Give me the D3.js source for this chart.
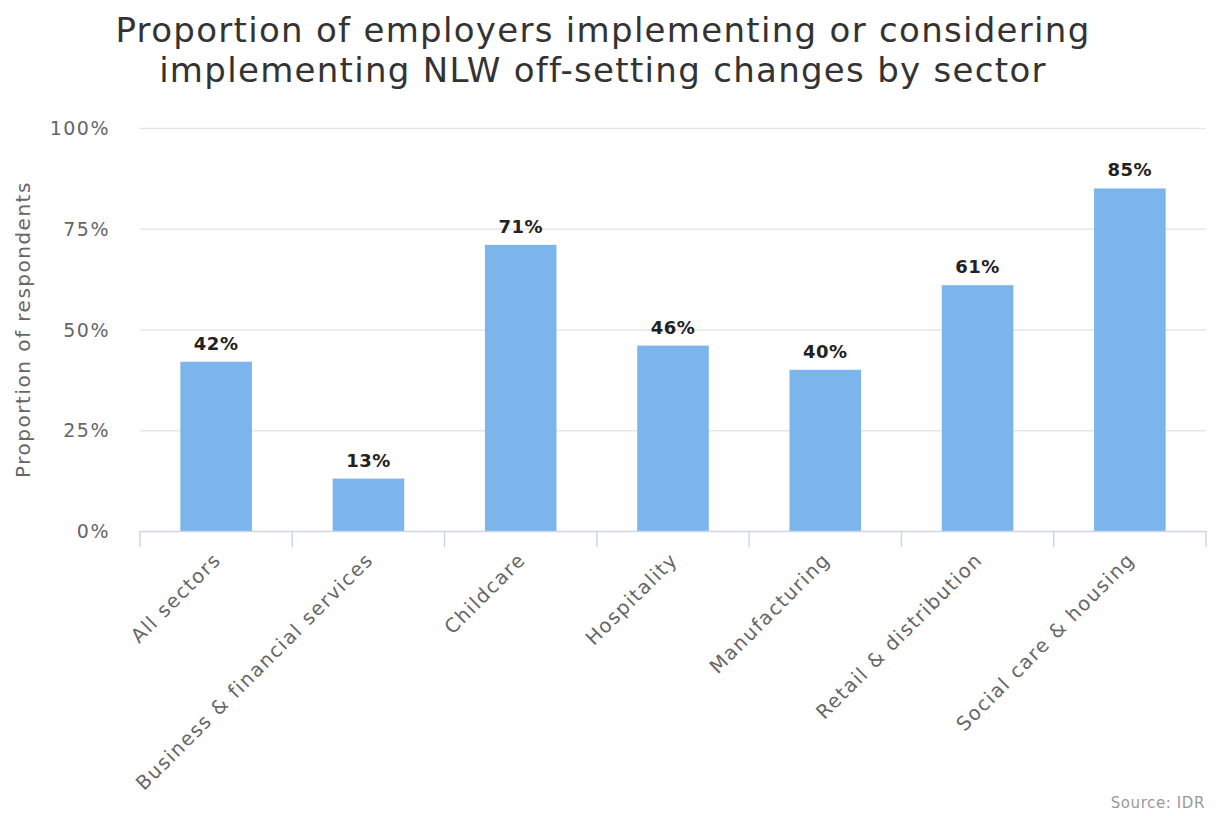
<!DOCTYPE html>
<html>
<head>
<meta charset="utf-8">
<script src="https://cdn.jsdelivr.net/npm/d3@7"></script>
<style>
  html, body { margin: 0; padding: 0; background: #fff; }
  svg { display: block; font-family: "DejaVu Sans", Verdana, sans-serif; }
</style>
</head>
<body>
<svg id="chart" width="1216" height="816"></svg>
<script>
// Sector breakdown of employers implementing or considering NLW off-setting changes
const categories = [
  "All sectors",
  "Business & financial services",
  "Childcare",
  "Hospitality",
  "Manufacturing",
  "Retail & distribution",
  "Social care & housing"
];
const values = [42, 13, 71, 46, 40, 61, 85];
const yTicks = [0, 25, 50, 75, 100];
const titleLines = [
  "Proportion of employers implementing or considering",
  "implementing NLW off-setting changes by sector"
];
const yTitle = "Proportion of respondents";
const sourceText = "Source: IDR";

const svg = d3.select("#chart");
const plot = { left: 140, right: 1206, top: 128, bottom: 531 };

const x = d3.scaleBand()
  .domain(categories)
  .range([plot.left, plot.right])
  .paddingInner(0)
  .paddingOuter(0);

const y = d3.scaleLinear()
  .domain([0, 100])
  .range([plot.bottom, plot.top]);

// Title, two centred lines
svg.append("g")
  .selectAll("text")
  .data(titleLines)
  .join("text")
  .attr("x", 603)
  .attr("y", (d, i) => 42 + i * 40)
  .attr("text-anchor", "middle")
  .style("font-size", "34px")
  .style("letter-spacing", "1.3px")
  .style("fill", "#333")
  .text(d => d);

// Gridlines
svg.append("g")
  .selectAll("line")
  .data(yTicks.filter(d => d > 0))
  .join("line")
  .attr("x1", plot.left)
  .attr("x2", plot.right)
  .attr("y1", d => y(d) + 0.5)
  .attr("y2", d => y(d) + 0.5)
  .attr("stroke", "#e6e6e6")
  .attr("stroke-width", 1.5);

// Y axis labels
const yAxis = svg.append("g")
  .attr("transform", `translate(${plot.left - 30},0)`)
  .call(d3.axisLeft(y).tickValues(yTicks).tickFormat(d => d + "%").tickSize(0).tickPadding(0));
yAxis.select(".domain").remove();
yAxis.selectAll("text")
  .attr("dy", "0.35em")
  .style("font-size", "19px")
  .style("letter-spacing", "1.5px")
  .style("font-family", "DejaVu Sans, Verdana, sans-serif")
  .style("fill", "#666");

// Y axis title
svg.append("text")
  .attr("transform", `translate(30,${(plot.top + plot.bottom) / 2}) rotate(-90)`)
  .attr("text-anchor", "middle")
  .style("font-size", "20px")
  .style("letter-spacing", "1.5px")
  .style("fill", "#666")
  .text(yTitle);

// Bars
const barW = x.bandwidth() * 0.47;
svg.append("g")
  .selectAll("rect")
  .data(values)
  .join("rect")
  .attr("x", (d, i) => x(categories[i]) + (x.bandwidth() - barW) / 2)
  .attr("y", d => y(d))
  .attr("width", barW)
  .attr("height", d => y(0) - y(d))
  .attr("fill", "#7cb5ec");

// Value labels
svg.append("g")
  .selectAll("text")
  .data(values)
  .join("text")
  .attr("x", (d, i) => x(categories[i]) + x.bandwidth() / 2)
  .attr("y", d => y(d) - 12)
  .attr("text-anchor", "middle")
  .style("font-size", "18px")
  .style("letter-spacing", "0.5px")
  .style("font-weight", "bold")
  .style("fill", "#222")
  .text(d => d + "%");

// X axis line and boundary ticks
svg.append("line")
  .attr("x1", plot.left).attr("x2", plot.right)
  .attr("y1", plot.bottom + 0.5).attr("y2", plot.bottom + 0.5)
  .attr("stroke", "#ccd6eb").attr("stroke-width", 1.5);
const boundaries = categories.map(c => x(c)).concat([plot.right]);
svg.append("g")
  .selectAll("line")
  .data(boundaries)
  .join("line")
  .attr("x1", d => d).attr("x2", d => d)
  .attr("y1", plot.bottom).attr("y2", plot.bottom + 16)
  .attr("stroke", "#ccd6eb").attr("stroke-width", 1.5);

// Category labels, rotated
svg.append("g")
  .selectAll("text")
  .data(categories)
  .join("text")
  .attr("transform", d => `translate(${x(d) + x.bandwidth() / 2 + 6},${plot.bottom + 30}) rotate(-45)`)
  .attr("text-anchor", "end")
  .style("font-size", "19.5px")
  .style("letter-spacing", "1.5px")
  .style("fill", "#666")
  .text(d => d);

// Source credit
svg.append("text")
  .attr("x", 1205)
  .attr("y", 808)
  .attr("text-anchor", "end")
  .style("font-size", "15px")
  .style("letter-spacing", "0.6px")
  .style("fill", "#999")
  .text(sourceText);
</script>
</body>
</html>
